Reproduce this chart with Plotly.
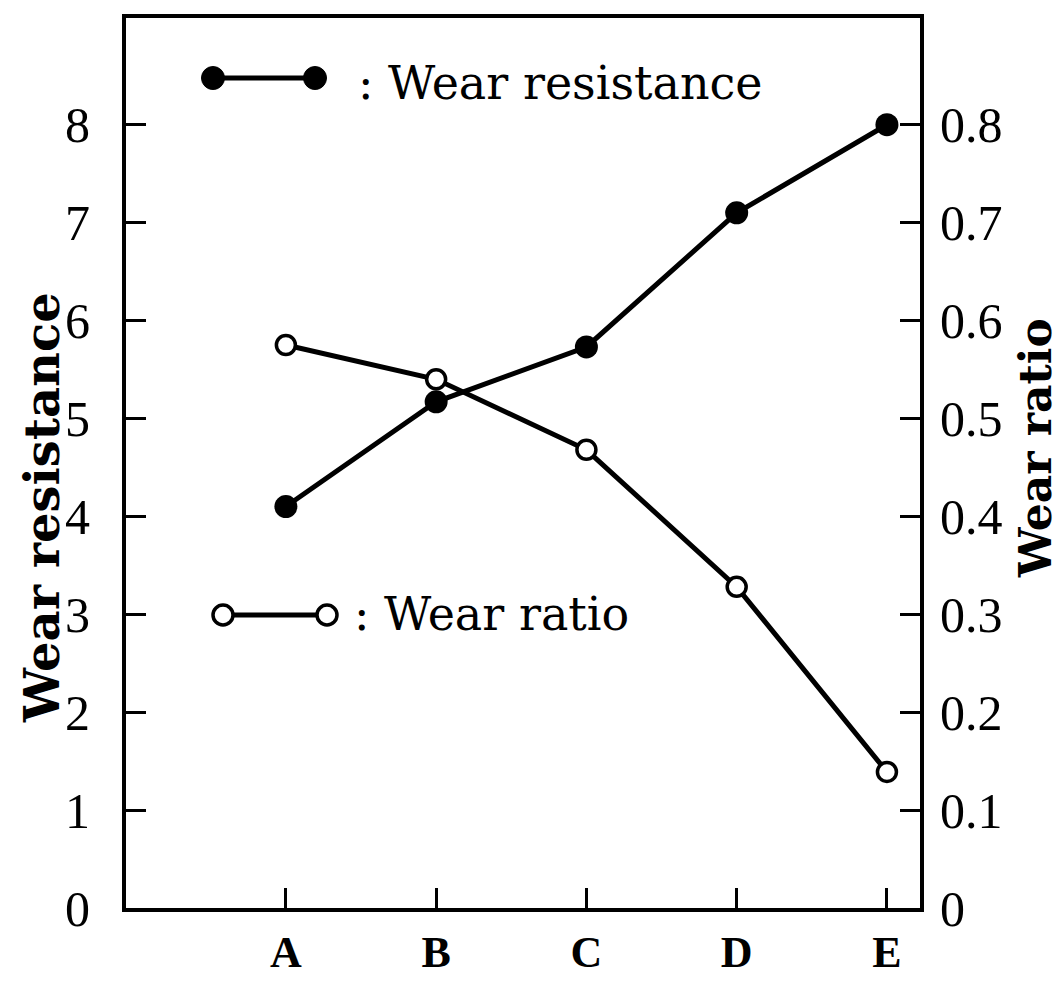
import plotly.graph_objects as go

categories = ["A", "B", "C", "D", "E"]
cat_pos = [1, 2, 3, 4, 5]
wear_resistance = [4.1, 5.17, 5.73, 7.1, 8.0]
wear_ratio = [0.575, 0.54, 0.468, 0.328, 0.139]
left_ticks = [0, 1, 2, 3, 4, 5, 6, 7, 8]
right_ticks = [0, 0.1, 0.2, 0.3, 0.4, 0.5, 0.6, 0.7, 0.8]
right_tick_text = ["0", "0.1", "0.2", "0.3", "0.4", "0.5", "0.6", "0.7", "0.8"]

W, H = 1061, 982
L, R, T, B = 126, 920, 18, 908
pw, ph = R - L, B - T

def px(x):
    return (x - L) / pw

def py(y):
    return (B - y) / ph

fig = go.Figure()
fig.add_trace(go.Scatter(
    x=cat_pos, y=wear_resistance, mode="lines+markers", yaxis="y",
    line=dict(color="black", width=5),
    marker=dict(symbol="circle", size=23, color="black"),
    showlegend=False, cliponaxis=False))
fig.add_trace(go.Scatter(
    x=cat_pos, y=wear_ratio, mode="lines+markers", yaxis="y2",
    line=dict(color="black", width=5),
    marker=dict(symbol="circle", size=19, color="white", line=dict(color="black", width=3.5)),
    showlegend=False, cliponaxis=False))

num_font = dict(family="Liberation Serif", size=50, color="black")
axis_common = dict(showline=True, linecolor="black", linewidth=4, ticks="inside",
                   ticklen=20, tickwidth=3, tickcolor="black", showgrid=False,
                   zeroline=False, automargin=False)

fig.update_layout(
    width=W, height=H,
    margin=dict(l=L, r=W - R, t=T, b=H - B, autoexpand=False),
    paper_bgcolor="white", plot_bgcolor="white",
    xaxis=dict(range=[-0.064, 5.22], tickvals=cat_pos, ticktext=categories, mirror=True,
               tickfont=dict(family="Liberation Serif", size=44, color="black", weight="bold"),
               ticklabelstandoff=2, **axis_common),
    yaxis=dict(range=[0, 9.09], tickvals=left_ticks, tickfont=num_font,
               ticklabelstandoff=22, **axis_common),
    yaxis2=dict(range=[0, 0.909], tickvals=right_ticks, ticktext=right_tick_text,
                overlaying="y", side="right", tickfont=num_font,
                ticklabelstandoff=6, **axis_common),
)

shapes = []
shapes.append(dict(type="line", xref="paper", yref="paper", x0=px(213), x1=px(315),
                   y0=py(78), y1=py(78), line=dict(color="black", width=5)))
shapes.append(dict(type="line", xref="paper", yref="paper", x0=px(223), x1=px(327),
                   y0=py(615), y1=py(615), line=dict(color="black", width=5)))
for cx in (213, 315):
    shapes.append(dict(type="circle", xref="paper", yref="paper", xsizemode="pixel", ysizemode="pixel",
                       xanchor=px(cx), yanchor=py(78), x0=-11.5, x1=11.5, y0=-11.5, y1=11.5,
                       fillcolor="black", line=dict(color="black", width=1)))
for cx in (223, 327):
    shapes.append(dict(type="circle", xref="paper", yref="paper", xsizemode="pixel", ysizemode="pixel",
                       xanchor=px(cx), yanchor=py(615), x0=-10, x1=10, y0=-10, y1=10,
                       fillcolor="white", line=dict(color="black", width=3.5)))
fig.update_layout(shapes=shapes)

annotations = [
    dict(text=": Wear resistance", xref="paper", yref="paper", x=px(356), y=py(83),
         xanchor="left", yanchor="middle", showarrow=False,
         font=dict(family="DejaVu Serif", size=46, color="black")),
    dict(text=": Wear ratio", xref="paper", yref="paper", x=px(352), y=py(614),
         xanchor="left", yanchor="middle", showarrow=False,
         font=dict(family="DejaVu Serif", size=46, color="black")),
    dict(text="Wear resistance", xref="paper", yref="paper", x=px(42), y=py(508),
         xanchor="center", yanchor="middle", textangle=-90, showarrow=False,
         font=dict(family="DejaVu Serif", size=48, color="black", weight="bold")),
    dict(text="Wear ratio", xref="paper", yref="paper", x=px(1036), y=py(448),
         xanchor="center", yanchor="middle", textangle=-90, showarrow=False,
         font=dict(family="DejaVu Serif", size=44, color="black", weight="bold")),
]
fig.update_layout(annotations=annotations)

fig.write_html("out.html", config={"displayModeBar": False},
               post_script="document.body.style.margin='0';document.body.style.overflow='hidden';")
